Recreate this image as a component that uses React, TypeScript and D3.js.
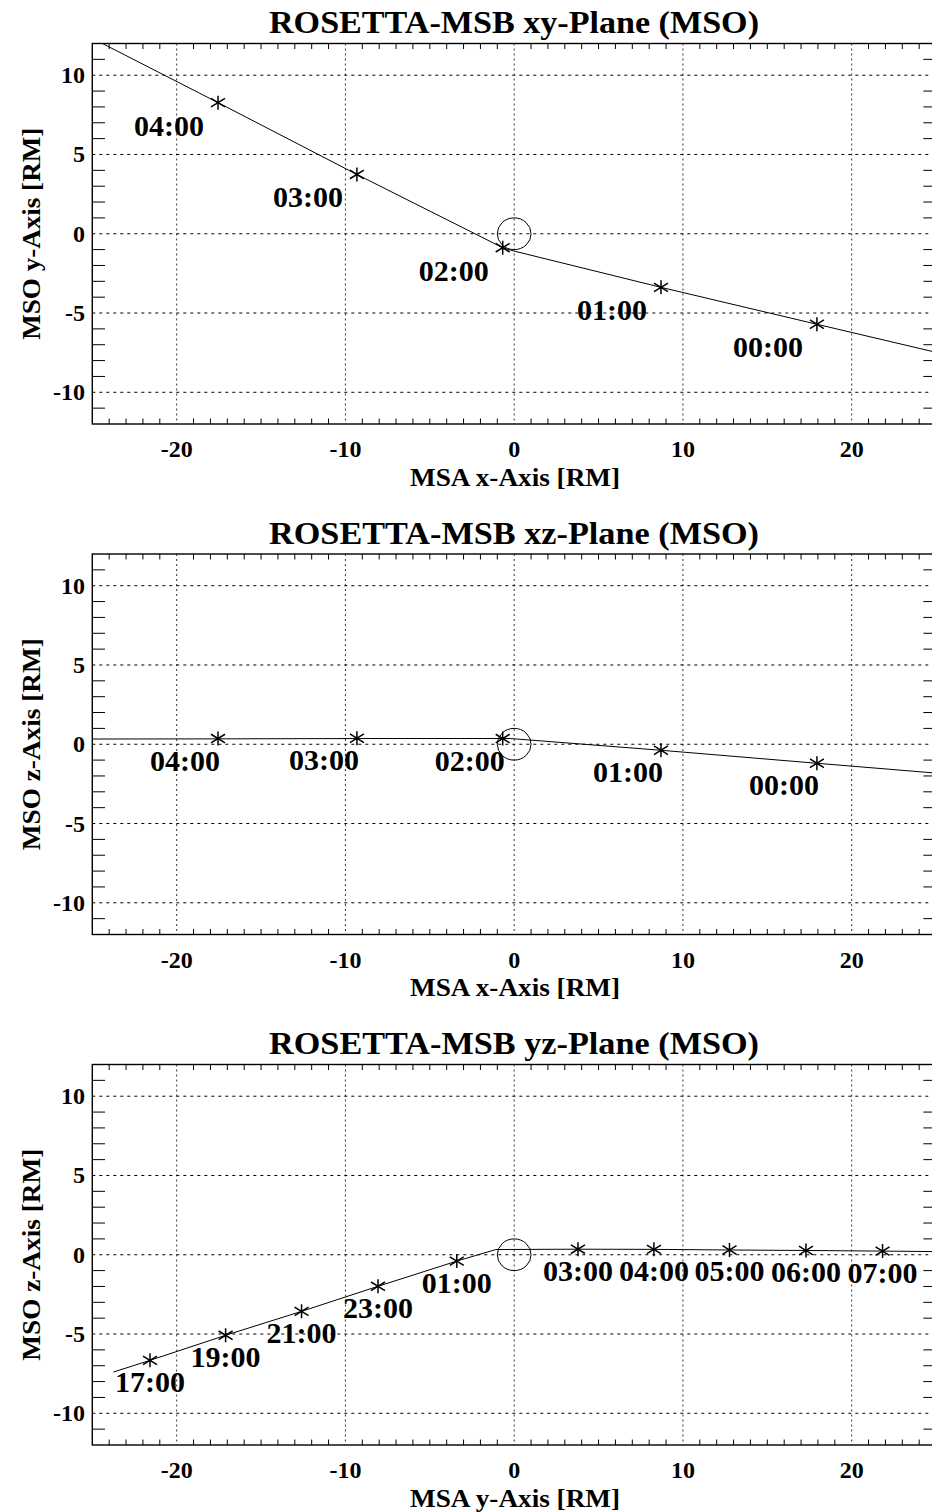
import React from "react";
import * as d3 from "d3";

// ---------- data ----------
const panelTitles = [
  "ROSETTA-MSB xy-Plane (MSO)",
  "ROSETTA-MSB xz-Plane (MSO)",
  "ROSETTA-MSB yz-Plane (MSO)",
];
const xAxisTitles = ["MSA x-Axis [RM]", "MSA x-Axis [RM]", "MSA y-Axis [RM]"];
const yAxisTitles = ["MSO y-Axis [RM]", "MSO z-Axis [RM]", "MSO z-Axis [RM]"];

const xTickValues = [-20, -10, 0, 10, 20];
const yTickValues = [-10, -5, 0, 5, 10];

// Panel 1: xy plane trajectory
const trackXY_x = [-24.4, -17.55, -9.32, -0.68, -0.05, 8.7, 17.94, 25];
const trackXY_y = [12, 8.27, 3.74, -0.88, -1.08, -3.38, -5.71, -7.48];
const starXY_t = ["04:00", "03:00", "02:00", "01:00", "00:00"];
const starXY_x = [-17.55, -9.32, -0.68, 8.7, 17.94];
const starXY_y = [8.27, 3.74, -0.88, -3.38, -5.71];

// Panel 2: xz plane trajectory
const trackXZ_x = [-25, -17.55, -9.32, -0.68, -0.2, 8.7, 17.94, 25];
const trackXZ_z = [0.33, 0.34, 0.36, 0.36, 0.36, -0.38, -1.2, -1.82];
const starXZ_t = ["04:00", "03:00", "02:00", "01:00", "00:00"];
const starXZ_x = [-17.55, -9.32, -0.68, 8.7, 17.94];
const starXZ_z = [0.36, 0.38, 0.36, -0.38, -1.2];

// Panel 3: yz plane trajectory
const trackYZ_y = [-23.75, -21.58, -17.1, -12.6, -8.07, -3.4, -1.08, 3.78, 8.28, 12.76, 17.29, 21.83, 25];
const trackYZ_z = [-7.4, -6.66, -5.08, -3.57, -1.99, -0.4, 0.33, 0.35, 0.34, 0.3, 0.27, 0.23, 0.2];
const starYZ_t = ["17:00", "19:00", "21:00", "23:00", "01:00", "03:00", "04:00", "05:00", "06:00", "07:00"];
const starYZ_y = [-21.58, -17.1, -12.6, -8.07, -3.4, 3.78, 8.28, 12.76, 17.29, 21.83];
const starYZ_z = [-6.66, -5.08, -3.57, -1.99, -0.4, 0.35, 0.34, 0.3, 0.27, 0.23];

// ---------- layout ----------
const W = 932;
const H = 1512;
const LEFT = 92.3;
const PX_PER_UNIT = 16.875;
const PLOT_H = 380.5;
const PANEL_TOPS = [43.5, 554, 1064.5];
const FONT = "'Liberation Serif', 'Times New Roman', serif";

type PanelDef = {
  title: string;
  xTitle: string;
  yTitle: string;
  trackA: number[];
  trackB: number[];
  starT: string[];
  starA: number[];
  starB: number[];
  labelAnchor: "end" | "middle";
  labelDx: number;
  labelDy: number;
};

const panels: PanelDef[] = [
  {
    title: panelTitles[0], xTitle: xAxisTitles[0], yTitle: yAxisTitles[0],
    trackA: trackXY_x, trackB: trackXY_y,
    starT: starXY_t, starA: starXY_x, starB: starXY_y,
    labelAnchor: "end", labelDx: -14, labelDy: 33,
  },
  {
    title: panelTitles[1], xTitle: xAxisTitles[1], yTitle: yAxisTitles[1],
    trackA: trackXZ_x, trackB: trackXZ_z,
    starT: starXZ_t, starA: starXZ_x, starB: starXZ_z,
    labelAnchor: "end", labelDx: 2, labelDy: 32,
  },
  {
    title: panelTitles[2], xTitle: xAxisTitles[2], yTitle: yAxisTitles[2],
    trackA: trackYZ_y, trackB: trackYZ_z,
    starT: starYZ_t, starA: starYZ_y, starB: starYZ_z,
    labelAnchor: "middle", labelDx: 0, labelDy: 31.5,
  },
];

function Star({ cx, cy }: { cx: number; cy: number }) {
  const r = 7;
  const d = `M${cx},${cy - r}L${cx},${cy + r}M${cx - r},${cy - 4.3}L${cx + r},${cy + 4.3}M${cx - r},${cy + 4.3}L${cx + r},${cy - 4.3}`;
  return <path d={d} stroke="#000" strokeWidth={1.5} fill="none" />;
}

function Panel({ p, idx }: { p: PanelDef; idx: number }) {
  const top = PANEL_TOPS[idx];
  const x = d3.scaleLinear().domain([-25, 25]).range([LEFT, LEFT + 50 * PX_PER_UNIT]);
  const y = d3.scaleLinear().domain([-12, 12]).range([top + PLOT_H, top]);
  const x0 = x(-25), x1 = x(25), y0 = y(-12), y1 = y(12);
  const clipId = `clip${idx}`;
  const cxPlot = (x0 + 931) / 2 + 0.5;

  const minorX = d3.range(-24, 25).filter((v) => v % 10 !== 0);
  const minorY = d3.range(-11, 12).filter((v) => v % 5 !== 0);

  const pts: [number, number][] = p.trackA.map((a, i) => [a, p.trackB[i]]);
  const line = d3.line<[number, number]>().x((d) => x(d[0])).y((d) => y(d[1]));

  const rx = x(1) - x(0);
  const ry = y(0) - y(1);

  return (
    <g>
      <defs>
        <clipPath id={clipId}>
          <rect x={x0} y={y1} width={x1 - x0} height={y0 - y1} />
        </clipPath>
      </defs>
      {/* title */}
      <text x={514} y={top - 10.5} textAnchor="middle" fontFamily={FONT} fontWeight="bold" fontSize={30.5}
        textLength={490} lengthAdjust="spacingAndGlyphs">
        {p.title}
      </text>
      {/* grid */}
      {xTickValues.map((v) => (
        <line key={`gx${v}`} x1={x(v)} x2={x(v)} y1={y1} y2={y0} stroke="#333" strokeWidth={1} strokeDasharray="2,3" />
      ))}
      {yTickValues.map((v) => (
        <line key={`gy${v}`} x1={x0} x2={x1} y1={y(v)} y2={y(v)} stroke="#000" strokeWidth={1} strokeDasharray="3,4" />
      ))}
      {/* minor ticks */}
      {minorX.map((v) => (
        <g key={`mx${v}`}>
          <line x1={x(v)} x2={x(v)} y1={y0} y2={y0 - 5.5} stroke="#000" strokeWidth={1} />
          <line x1={x(v)} x2={x(v)} y1={y1} y2={y1 + 5.5} stroke="#000" strokeWidth={1} />
        </g>
      ))}
      {minorY.map((v) => (
        <g key={`my${v}`}>
          <line x1={x0} x2={x0 + 12.7} y1={y(v)} y2={y(v)} stroke="#000" strokeWidth={1} />
          <line x1={x1} x2={x1 - 12.7} y1={y(v)} y2={y(v)} stroke="#000" strokeWidth={1} />
        </g>
      ))}
      {/* frame */}
      <rect x={x0} y={y1} width={x1 - x0} height={y0 - y1} fill="none" stroke="#000" strokeWidth={1.4} />
      {/* tick labels */}
      {xTickValues.map((v) => (
        <text key={`tx${v}`} x={x(v)} y={y0 + 33} textAnchor="middle" fontFamily={FONT} fontWeight="bold" fontSize={24}>
          {v}
        </text>
      ))}
      {yTickValues.map((v) => (
        <text key={`ty${v}`} x={85} y={y(v) + 8} textAnchor="end" fontFamily={FONT} fontWeight="bold" fontSize={24}>
          {v}
        </text>
      ))}
      {/* axis titles */}
      <text x={515} y={y0 + 61.5} textAnchor="middle" fontFamily={FONT} fontWeight="bold" fontSize={25}
        textLength={210} lengthAdjust="spacingAndGlyphs">
        {p.xTitle}
      </text>
      <text transform={`translate(40,${(y0 + y1) / 2}) rotate(-90)`} textAnchor="middle" fontFamily={FONT} fontWeight="bold" fontSize={25}
        textLength={212} lengthAdjust="spacingAndGlyphs">
        {p.yTitle}
      </text>
      {/* data */}
      <g clipPath={`url(#${clipId})`}>
        <ellipse cx={x(0)} cy={y(0)} rx={rx} ry={ry} fill="none" stroke="#000" strokeWidth={1} />
        <path d={line(pts) || ""} fill="none" stroke="#000" strokeWidth={1} />
        {p.starA.map((a, i) => (
          <Star key={`s${i}`} cx={x(a)} cy={y(p.starB[i])} />
        ))}
        {p.starA.map((a, i) => (
          <text
            key={`l${i}`}
            x={x(a) + p.labelDx}
            y={y(p.starB[i]) + p.labelDy}
            textAnchor={p.labelAnchor}
            fontFamily={FONT}
            fontWeight="bold"
            fontSize={30}
          >
            {p.starT[i]}
          </text>
        ))}
      </g>
    </g>
  );
}

export default function App() {
  return (
    <svg width={W} height={H} style={{ position: "absolute", left: 0, top: 0, background: "#fff" }}>
      <rect x={0} y={0} width={W} height={H} fill="#fff" />
      {panels.map((p, i) => (
        <Panel key={i} p={p} idx={i} />
      ))}
    </svg>
  );
}
